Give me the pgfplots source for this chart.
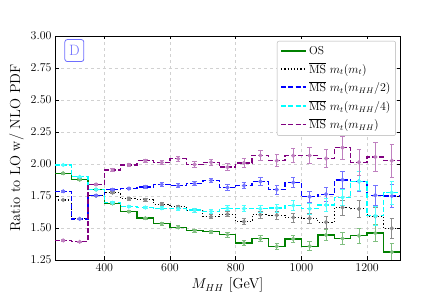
\documentclass[border=0pt]{standalone}
\usepackage{pgfplots}
\usepackage{pgfplotstable}
\pgfplotsset{compat=1.18}
\definecolor{osgreen}{rgb}{0,0.5,0}
\definecolor{mspurple}{rgb}{0.5,0,0.5}
\definecolor{msblue}{rgb}{0,0,1}
\definecolor{mscyan}{rgb}{0,1,1}
\definecolor{dblue}{RGB}{110,110,255}

\pgfplotstableread{
x os ose mt mte h2 h2e h4 h4e h1 h1e
275 1.928 0.006 1.719 0.005 1.787 0.005 1.992 0.006 1.403 0.005
325 1.877 0.007 1.571 0.006 1.571 0.006 1.900 0.007 1.392 0.006
375 1.800 0.007 1.752 0.007 1.753 0.007 1.800 0.007 1.840 0.009
425 1.692 0.008 1.776 0.009 1.799 0.009 1.697 0.008 1.953 0.012
475 1.628 0.008 1.728 0.009 1.808 0.009 1.667 0.008 1.993 0.012
525 1.577 0.009 1.720 0.010 1.821 0.011 1.660 0.010 2.025 0.014
575 1.533 0.011 1.687 0.012 1.840 0.013 1.655 0.012 2.012 0.017
625 1.505 0.012 1.665 0.013 1.830 0.015 1.650 0.013 2.041 0.019
675 1.479 0.013 1.640 0.015 1.847 0.017 1.640 0.015 1.996 0.021
725 1.470 0.015 1.588 0.016 1.872 0.019 1.630 0.016 2.013 0.024
775 1.447 0.017 1.608 0.019 1.816 0.022 1.655 0.020 1.976 0.028
825 1.383 0.019 1.550 0.022 1.832 0.026 1.652 0.023 2.008 0.033
875 1.416 0.023 1.603 0.026 1.863 0.030 1.650 0.026 2.067 0.038
925 1.356 0.026 1.600 0.030 1.800 0.034 1.656 0.031 2.026 0.046
975 1.415 0.031 1.582 0.035 1.855 0.041 1.676 0.037 2.065 0.053
1025 1.358 0.034 1.576 0.039 1.744 0.044 1.650 0.041 2.066 0.061
1075 1.445 0.043 1.545 0.046 1.764 0.053 1.680 0.050 2.043 0.073
1125 1.418 0.050 1.660 0.058 1.876 0.066 1.738 0.061 2.128 0.089
1175 1.440 0.058 1.650 0.066 1.864 0.075 1.866 0.075 2.013 0.100
1225 1.460 0.066 1.592 0.072 1.756 0.079 1.595 0.072 2.055 0.115
1275 1.312 0.070 1.497 0.075 1.750 0.088 1.777 0.089 2.026 0.130
}\centers

\pgfplotstableread{
x os mt h2 h4 h1
250 1.928 1.719 1.787 1.992 1.403
300 1.877 1.571 1.571 1.900 1.392
350 1.800 1.752 1.753 1.800 1.840
400 1.692 1.776 1.799 1.697 1.953
450 1.628 1.728 1.808 1.667 1.993
500 1.577 1.720 1.821 1.660 2.025
550 1.533 1.687 1.840 1.655 2.012
600 1.505 1.665 1.830 1.650 2.041
650 1.479 1.640 1.847 1.640 1.996
700 1.470 1.588 1.872 1.630 2.013
750 1.447 1.608 1.816 1.655 1.976
800 1.383 1.550 1.832 1.652 2.008
850 1.416 1.603 1.863 1.650 2.067
900 1.356 1.600 1.800 1.656 2.026
950 1.415 1.582 1.855 1.676 2.065
1000 1.358 1.576 1.744 1.650 2.066
1050 1.445 1.545 1.764 1.680 2.043
1100 1.418 1.660 1.876 1.738 2.128
1150 1.440 1.650 1.864 1.866 2.013
1200 1.460 1.592 1.756 1.595 2.055
1250 1.312 1.497 1.750 1.777 2.026
1300 1.312 1.497 1.750 1.777 2.026
}\steps

\pgfplotsset{
  errpts/.style={only marks, mark=*, mark size=1.9bp, forget plot,
    error bars/y dir=both, error bars/y explicit,
    error bars/error bar style={line width=0.8pt},
    error bars/error mark options={rotate=90, mark size=2.2bp, line width=0.8pt}},
  osstyle/.style={color=osgreen, line width=1.3pt},
  mtstyle/.style={color=black, line width=1.1pt, dash pattern=on 1.2pt off 2pt},
  h2style/.style={color=msblue, line width=1.3pt, dash pattern=on 5pt off 2.2pt},
  h4style/.style={color=mscyan, line width=1.3pt, dash pattern=on 5pt off 2.2pt},
  h1style/.style={color=mspurple, line width=1.3pt, dash pattern=on 5pt off 2.2pt},
}

\begin{document}
\begin{tikzpicture}
\path[use as bounding box] (0,0) rectangle (444bp,305bp);
\begin{axis}[
  at={(55bp,45bp)}, anchor=south west,
  scale only axis, width=345bp, height=224bp,
  xmin=250, xmax=1300, ymin=1.25, ymax=3.0,
  xtick={400,600,800,1000,1200},
  ytick={1.25,1.5,1.75,2.0,2.25,2.5,2.75,3.0},
  yticklabel style={/pgf/number format/fixed,/pgf/number format/fixed zerofill,/pgf/number format/precision=2},
  xticklabel style={/pgf/number format/1000 sep={}},
  tick align=inside, tick pos=both,
  major tick length=3.5bp,
  axis line style={line width=0.8pt},
  every tick/.style={black, line width=0.6pt},
  grid=major, grid style={dashed, black!18, line width=0.5pt},
  tick label style={font=\fontsize{11.5}{13}\selectfont},
  label style={font=\fontsize{14.5}{17}\selectfont},
  xlabel={$M_{HH}$ [GeV]},
  ylabel={Ratio to LO w/ NLO PDF},
  legend style={at={(0.988,0.978)}, anchor=north east, draw=black!30, rounded corners=2pt,
    font=\fontsize{11.5}{13}\selectfont, row sep=3bp, inner sep=3.2bp},
  legend cell align=left,
  legend image code/.code={\draw[#1, line width=1.7pt] (0bp,0bp) -- (25bp,0bp);},
]
\addlegendimage{osstyle}
\addlegendentry{OS}
\addlegendimage{mtstyle}
\addlegendentry{$\overline{\mathrm{MS}}\ m_t(m_t)$}
\addlegendimage{h2style}
\addlegendentry{$\overline{\mathrm{MS}}\ m_t(m_{HH}/2)$}
\addlegendimage{h4style}
\addlegendentry{$\overline{\mathrm{MS}}\ m_t(m_{HH}/4)$}
\addlegendimage{h1style}
\addlegendentry{$\overline{\mathrm{MS}}\ m_t(m_{HH})$}

\addplot[const plot, osstyle, forget plot] table[x=x,y=os] {\steps};
\addplot[const plot, mtstyle, forget plot] table[x=x,y=mt] {\steps};
\addplot[const plot, h2style, forget plot] table[x=x,y=h2] {\steps};
\addplot[const plot, h4style, forget plot] table[x=x,y=h4] {\steps};
\addplot[const plot, h1style, forget plot] table[x=x,y=h1] {\steps};

\addplot[errpts, color=osgreen!50, mark options={fill=osgreen!50, draw=osgreen!50}] table[x=x,y=os,y error=ose] {\centers};
\addplot[errpts, color=black!45, mark options={fill=black!45, draw=black!45}] table[x=x,y=mt,y error=mte] {\centers};
\addplot[errpts, color=msblue!55, mark options={fill=msblue!55, draw=msblue!55}] table[x=x,y=h2,y error=h2e] {\centers};
\addplot[errpts, color=mscyan!70, mark options={fill=mscyan!70, draw=mscyan!70}] table[x=x,y=h4,y error=h4e] {\centers};
\addplot[errpts, color=mspurple!50, mark options={fill=mspurple!50, draw=mspurple!50}] table[x=x,y=h1,y error=h1e] {\centers};

\node[draw=dblue, text=dblue, rounded corners=2.5pt, line width=0.8pt,
  font=\fontsize{15}{15}\selectfont, inner sep=0pt, minimum width=19bp, minimum height=22bp]
  at (rel axis cs:0.056,0.935) {D};
\end{axis}
\end{tikzpicture}
\end{document}
